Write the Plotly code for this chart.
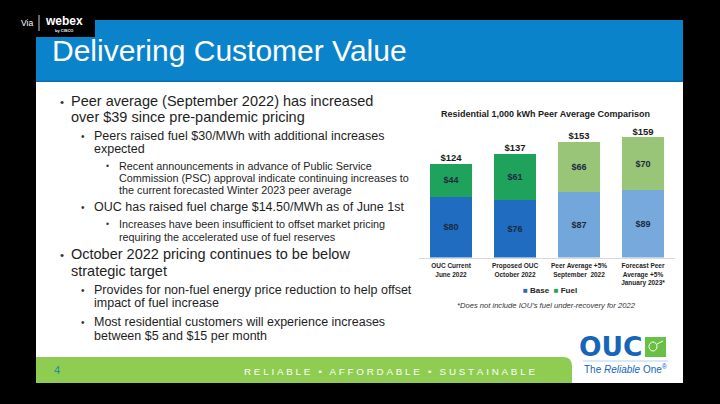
import plotly.graph_objects as go

# ---------------- data ----------------
categories = ["OUC Current<br>June 2022", "Proposed OUC<br>October 2022",
              "Peer Average +5%<br>September  2022", "Forecast Peer<br>Average +5%<br>January 2023*"]
base_values = [80, 76, 87, 89]
fuel_values = [44, 61, 66, 70]
totals = [b + f for b, f in zip(base_values, fuel_values)]

base_colors = ["#1f6cc0", "#1f6cc0", "#73a6da", "#77a9dc"]
fuel_colors = ["#1fa35c", "#1fa35c", "#98c577", "#98c577"]

W, H = 720, 404
def X(px): return px / W
def Y(py): return 1 - py / H

FONT = "Arial, Liberation Sans, sans-serif"

fig = go.Figure()
fig.add_trace(go.Bar(
    x=categories, y=base_values, name="Base",
    marker=dict(color=base_colors, line=dict(width=0)),
    text=[f"<b>${v}</b>" for v in base_values], textposition="inside",
    insidetextanchor="middle", textangle=0,
    textfont=dict(family=FONT, size=9, color="#1b2940"),
))
fig.add_trace(go.Bar(
    x=categories, y=fuel_values, name="Fuel",
    marker=dict(color=fuel_colors, line=dict(width=0)),
    text=[f"<b>${v}</b>" for v in fuel_values], textposition="inside",
    insidetextanchor="middle", textangle=0,
    textfont=dict(family=FONT, size=9, color="#1b2940"),
))
fig.add_trace(go.Scatter(
    x=categories, y=totals, mode="text",
    text=[f"<b>${v}</b>" for v in totals], textposition="top center",
    textfont=dict(family=FONT, size=9.5, color="#1a1a1a"),
    showlegend=False, hoverinfo="skip",
))

shapes = []
def rect(x0, y0, x1, y1, color, layer="below"):
    shapes.append(dict(type="rect", xref="paper", yref="paper",
                       x0=X(x0), x1=X(x1), y0=Y(y1), y1=Y(y0),
                       fillcolor=color, line=dict(width=0), layer=layer))

# slide
rect(36, 20, 683, 383, "#ffffff")
rect(36, 20, 683, 82, "#0b83ca")
rect(36, 80.5, 683, 82, "#0a6eae")
# footer green with rounded top-right corner
x0, x1, y0, y1, r = X(36), X(572), Y(357), Y(383), 9
shapes.append(dict(type="path", xref="paper", yref="paper", layer="below",
                   path=f"M {x0},{y1} L {x0},{y0} L {X(572-r)},{y0} Q {x1},{y0} {x1},{Y(357+r)} L {x1},{y1} Z",
                   fillcolor="#8ecd51", line=dict(width=0)))
# OUC logo pieces
rect(645, 337, 666, 357, "#6abf45")
shapes.append(dict(type="circle", xref="paper", yref="paper", x0=X(649), x1=X(657),
                   y0=Y(351), y1=Y(342), line=dict(color="#ffffff", width=1), layer="below"))
shapes.append(dict(type="line", xref="paper", yref="paper", x0=X(657), x1=X(663),
                   y0=Y(344), y1=Y(341), line=dict(color="#ffffff", width=1), layer="below"))
shapes.append(dict(type="line", xref="paper", yref="paper", x0=X(583), x1=X(668),
                   y0=Y(361), y1=Y(361), line=dict(color="#9cc9e6", width=0.8), layer="below"))
# webex overlay box
rect(0, 0, 95, 37, "#000000", layer="above")
shapes.append(dict(type="line", xref="paper", yref="paper", x0=X(39), x1=X(39),
                   y0=Y(15), y1=Y(31), line=dict(color="#ffffff", width=0.8), layer="above"))

ann = []
def txt(x, y, s, size, color="#1e1e1e", anchor="left", family=FONT):
    ann.append(dict(x=X(x), y=Y(y), xref="paper", yref="paper", text=s, showarrow=False,
                    xanchor=anchor, yanchor="middle", align=anchor if anchor != "center" else "center",
                    font=dict(family=family, size=size, color=color)))

# header
txt(50, 50, "Delivering Customer Value", 30, "#ffffff")
# webex
txt(27, 23, "Via", 8.5, "#ffffff", "center")
txt(64, 21, "<b>webex</b>", 12, "#ffffff", "center")
txt(64, 31, "<b>by CISCO</b>", 4, "#ffffff", "center")

# bullets
L1, L2, L3 = 14.5, 12.5, 10.8
lines = [
    (1, 101, "Peer average (September 2022) has increased", True),
    (1, 117, "over $39 since pre-pandemic pricing", False),
    (2, 136, "Peers raised fuel $30/MWh with additional increases", True),
    (2, 149, "expected", False),
    (3, 166, "Recent announcements in advance of Public Service", True),
    (3, 178, "Commission (PSC) approval indicate continuing increases to", False),
    (3, 189.5, "the current forecasted Winter 2023 peer average", False),
    (2, 207, "OUC has raised fuel charge $14.50/MWh as of June 1st", True),
    (3, 224, "Increases have been insufficient to offset market pricing", True),
    (3, 236.5, "requiring the accelerated use of fuel reserves", False),
    (1, 254, "October 2022 pricing continues to be below", True),
    (1, 271, "strategic target", False),
    (2, 290, "Provides for non-fuel energy price reduction to help offset", True),
    (2, 303, "impact of fuel increase", False),
    (2, 322, "Most residential customers will experience increases", True),
    (2, 336, "between $5 and $15 per month", False),
]
bx = {1: 62, 2: 83, 3: 107}
tx = {1: 69, 2: 92, 3: 117}
sz = {1: L1, 2: L2, 3: L3}
for lvl, y, s, bullet in lines:
    if bullet:
        txt(bx[lvl], y, "•", sz[lvl] * 0.8, "#333333", "center")
    txt(tx[lvl], y, s, sz[lvl])

# chart texts
txt(545.5, 113.5, "<b>Residential 1,000 kWh Peer Average Comparison</b>", 9, "#1a1a1a", "center")
txt(550, 290.5, "<span style='color:#1f6cc0'>■</span> <b>Base</b>  <span style='color:#1fa35c'>■</span> <b>Fuel</b>",
    8, "#262626", "center")
txt(546, 305, "<i>*Does not include IOU’s fuel under-recovery for 2022</i>", 7.6, "#333333", "center")

# footer
txt(57, 370, "4", 11, "#1f8fa0", "center")
footer = "   •   ".join("\u2009\u200a".join(w) for w in ["RELIABLE", "AFFORDABLE", "SUSTAINABLE"])
txt(389, 371, footer, 9.8, "#ffffff", "center")

# OUC logo text
txt(611, 346, "<b>OUC</b>", 26.5, "#1566b8", "center", "Arial Black, DejaVu Sans, sans-serif")
txt(625.5, 369, "The <i>Reliable</i> One<sup>®</sup>", 10, "#1566b8", "center")

fig.update_layout(
    width=W, height=H, margin=dict(l=0, r=0, t=0, b=0),
    paper_bgcolor="#000000", plot_bgcolor="rgba(0,0,0,0)",
    barmode="stack", bargap=0.33, showlegend=False,
    shapes=shapes, annotations=ann,
    font=dict(family=FONT),
    xaxis=dict(domain=[X(419), X(675)], showgrid=False, zeroline=False,
               showline=True, linecolor="#d9d9d9", linewidth=1, ticks="",
               tickfont=dict(family=FONT, size=6.5, color="#1e1e1e"),
               tickmode="array", tickvals=categories,
               ticktext=[f"<b>{c}</b>" for c in categories], ticklabelstandoff=2),
    yaxis=dict(domain=[Y(257.5), Y(122)], range=[0, 178.8], visible=False),
)

fig.write_html("out.html", config={"displayModeBar": False},
               post_script="document.body.style.margin='0';document.body.style.background='#000';")
